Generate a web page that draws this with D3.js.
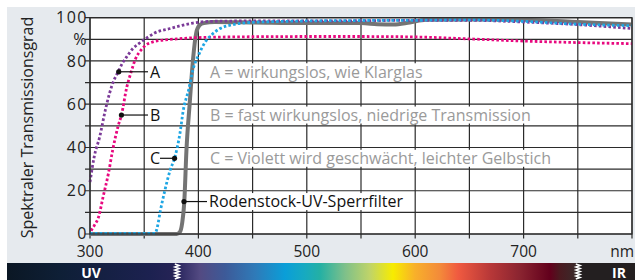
<!DOCTYPE html>
<html lang="de">
<head>
<meta charset="UTF-8">
<title>Spektraler Transmissionsgrad</title>
<script src="https://d3js.org/d3.v7.min.js"></script>
<style>
  body { margin: 0; background: #fff; }
  svg { display: block; font-family: "Open Sans", "Noto Sans", sans-serif; }
</style>
</head>
<body>
<div id="chart"></div>
<script>
// curve data (wavelength nm, transmission %)
const nmA = [300, 304, 309, 314, 318, 322, 326, 330, 334, 340, 345, 352, 360, 374, 385, 395, 410, 450, 500, 550, 600, 650, 700, 750, 800];
const valA = [24, 36, 45, 57, 65, 71, 75, 79, 82, 86, 88, 90.5, 93, 95, 96.5, 97.5, 98.3, 98.5, 98.5, 98.6, 98.8, 98.8, 98, 96.8, 95];

const nmB = [301, 304, 308, 312, 317, 321, 326, 329, 334, 338, 342, 347, 352, 358, 365, 380, 400, 450, 500, 550, 600, 650, 700, 750, 800];
const valB = [1.5, 4, 8, 17, 28, 39, 50, 55, 68, 75, 81, 85, 87.5, 88.8, 89.5, 90.2, 90.8, 91.2, 91.3, 91.3, 91.1, 90.2, 89.2, 88.5, 88];

const nmC = [300, 360, 362, 365, 369, 374, 378, 383, 386, 391, 395, 401, 406, 412, 420, 432, 448, 470, 500, 550, 600, 650, 700, 750, 800];
const valC = [0.3, 0.3, 3, 11, 20, 29.6, 35, 46.6, 57, 66.7, 76, 83.6, 88.5, 92, 95, 96.8, 97.8, 98.2, 98.5, 98.7, 98.8, 99, 98.3, 97, 96.3];

const nmR = [300, 380, 383, 385, 387, 389, 392, 395, 398, 401, 405, 415, 450, 500, 550, 565, 580, 595, 610, 650, 700, 750, 800];
const valR = [0, 0, 1, 5, 15, 39, 60.5, 80.5, 93, 96.5, 97.5, 98, 97.8, 97.5, 97.5, 97, 96.8, 97.8, 99, 99.2, 99, 98, 96.8];

const xTicks = [300, 350, 400, 450, 500, 550, 600, 650, 700, 750, 800];
const xTickLabels = ["300", "", "400", "", "500", "", "600", "", "700", "", "nm"];
const yTicks = [0, 10, 20, 30, 40, 50, 60, 70, 80, 90, 100];
const yTickLabels = ["0", "", "20", "", "40", "", "60", "", "80", "%", "100"];

// callouts: marker on curve [nm, value], label side
const markers = [
  { name: "A", nm: 326.5, v: 75, text: "A", side: "right" },
  { name: "B", nm: 329, v: 55, text: "B", side: "right" },
  { name: "C", nm: 378, v: 35, text: "C", side: "left" },
  { name: "R", nm: 386.7, v: 15, text: "Rodenstock-UV-Sperrfilter", side: "right" }
];
const notes = [
  { v: 75, text: "A = wirkungslos, wie Klarglas" },
  { v: 55, text: "B = fast wirkungslos, niedrige Transmission" },
  { v: 35, text: "C = Violett wird geschwächt, leichter Gelbstich" }
];

const spectrumStops = [
  [7, "#0b1724"], [60, "#0e1f36"], [150, "#1c2150"], [176, "#262356"],
  [180, "#2e2a62"], [200, "#534a82"], [225, "#3d5a98"], [255, "#2f7ab8"],
  [285, "#0a9ed8"], [305, "#17aac0"], [320, "#24b0a4"], [345, "#7ec08a"],
  [370, "#c0d468"], [393, "#f7ec00"], [415, "#f8b02a"], [440, "#f38a3a"],
  [458, "#f05a40"], [490, "#b83838"], [520, "#8a2430"], [550, "#62001c"],
  [560, "#4a1a20"], [576, "#3a2a2a"], [578, "#231f20"], [635, "#231f20"]
];

const W = 635, H = 280;
const plotL = 90, plotR = 632, plotT = 17.7, plotB = 234;

const svg = d3.select("#chart").append("svg")
  .attr("width", W).attr("height", H);

// backgrounds
svg.append("rect").attr("x", 7).attr("y", 7).attr("width", W - 7).attr("height", 256)
  .attr("fill", "#e6eaee");
svg.append("rect").attr("x", plotL).attr("y", plotT).attr("width", plotR - plotL).attr("height", plotB - plotT)
  .attr("fill", "#fff");

const x = d3.scaleLinear().domain([300, 800]).range([plotL, plotR]);
const y = d3.scaleLinear().domain([0, 100]).range([plotB, plotT]);

// grid
const grid = svg.append("g").attr("stroke", "#2b2b2b").attr("stroke-width", 1.2);
grid.selectAll(".v").data(xTicks).join("line")
  .attr("x1", d => x(d)).attr("x2", d => x(d))
  .attr("y1", plotT).attr("y2", plotB + 4.5);
grid.selectAll(".h").data(yTicks).join("line")
  .attr("x1", plotL - 5).attr("x2", plotR)
  .attr("y1", d => y(d)).attr("y2", d => y(d));

// curves
const line = (nm, vals) => d3.line()
  .x((d, i) => x(nm[i])).y(d => y(d))
  .curve(d3.curveMonotoneX)(vals);

svg.append("path").attr("d", line(nmR, valR))
  .attr("fill", "none").attr("stroke", "#747474").attr("stroke-width", 4)
  .attr("stroke-linejoin", "round");

const dotted = [
  [nmA, valA, "#7b3a98"],
  [nmB, valB, "#e8087f"],
  [nmC, valC, "#1ea6e4"]
];
dotted.forEach(([nm, vals, c]) => {
  svg.append("path").attr("d", line(nm, vals))
    .attr("fill", "none").attr("stroke", c).attr("stroke-width", 2.8)
    .attr("stroke-dasharray", "2.6 2.2");
});

// grey notes with white boxes
notes.forEach(n => {
  const t = svg.append("text")
    .attr("x", 210).attr("y", y(n.v)).attr("dy", "0.36em")
    .attr("font-size", 16).attr("fill", "#9a9a9a")
    .text(n.text);
  const bb = t.node().getBBox();
  svg.insert("rect", () => t.node())
    .attr("x", bb.x - 4).attr("y", y(n.v) - 8.5)
    .attr("width", bb.width + 7).attr("height", 17)
    .attr("fill", "#fff");
});

// callouts
markers.forEach(m => {
  const px = x(m.nm), py = y(m.v);
  if (m.side === "right") {
    const lx = m.name === "R" ? 207 : 148;
    const t = svg.append("text").attr("x", lx + 2).attr("y", py).attr("dy", "0.36em")
      .attr("font-size", 16).attr("fill", "#111").text(m.text);
    if (m.name === "R") {
      const bb = t.node().getBBox();
      svg.insert("rect", () => t.node())
        .attr("x", bb.x - 2).attr("y", py - 8.5)
        .attr("width", bb.width + 6).attr("height", 17).attr("fill", "#fff");
    }
    svg.append("line").attr("x1", px).attr("x2", lx).attr("y1", py).attr("y2", py)
      .attr("stroke", "#111").attr("stroke-width", 1.2);
  } else {
    svg.append("text").attr("x", 150).attr("y", py).attr("dy", "0.36em")
      .attr("font-size", 16).attr("fill", "#111").text(m.text);
    svg.append("line").attr("x1", 160).attr("x2", px).attr("y1", py).attr("y2", py)
      .attr("stroke", "#111").attr("stroke-width", 1.2);
  }
  svg.append("circle").attr("cx", px).attr("cy", py).attr("r", 2.6).attr("fill", "#111");
});

// plot border
svg.append("rect").attr("x", plotL).attr("y", plotT).attr("width", plotR - plotL).attr("height", plotB - plotT)
  .attr("fill", "none").attr("stroke", "#2b2b2b").attr("stroke-width", 1.2);

// tick labels
svg.selectAll(".yl").data(yTicks).join("text")
  .attr("x", 88).attr("y", d => y(d) - (d === 0 ? 1 : 0)).attr("dy", "0.35em")
  .attr("text-anchor", "end").attr("font-size", 16).attr("letter-spacing", 1.5)
  .attr("fill", "#222")
  .text((d, i) => yTickLabels[i]);
svg.selectAll(".xl").data(xTicks).join("text")
  .attr("x", d => d === 800 ? 634 : x(d)).attr("y", 256.5)
  .attr("text-anchor", d => d === 800 ? "end" : "middle").attr("font-size", 15.5)
  .attr("fill", "#222")
  .text((d, i) => xTickLabels[i]);

// y title
svg.append("text")
  .attr("transform", "translate(33,127.5) rotate(-90)")
  .attr("text-anchor", "middle").attr("font-size", 16).attr("fill", "#222")
  .text("Spektraler Transmissionsgrad");

// spectrum bar
const grad = svg.append("defs").append("linearGradient")
  .attr("id", "spec").attr("gradientUnits", "userSpaceOnUse")
  .attr("x1", 0).attr("x2", W).attr("y1", 0).attr("y2", 0);
grad.selectAll("stop").data(spectrumStops).join("stop")
  .attr("offset", d => d[0] / W).attr("stop-color", d => d[1]);
svg.append("rect").attr("x", 7).attr("y", 263).attr("width", W - 7).attr("height", 17)
  .attr("fill", "url(#spec)");

[177, 578].forEach(zx => {
  const pts = d3.range(0, 11).map(i => [zx + (i % 2 ? 2.2 : -2.2), 264 + i * 1.5]);
  svg.append("path").attr("d", d3.line()(pts))
    .attr("fill", "none").attr("stroke", "#fff").attr("stroke-width", 1.4);
});
svg.append("text").attr("x", 91).attr("y", 277.5).attr("text-anchor", "middle")
  .attr("font-size", 14).attr("font-weight", "bold").attr("fill", "#fff").text("UV");
svg.append("text").attr("x", 619).attr("y", 277.5).attr("text-anchor", "middle")
  .attr("font-size", 14).attr("font-weight", "bold").attr("fill", "#fff").text("IR");
</script>
</body>
</html>
